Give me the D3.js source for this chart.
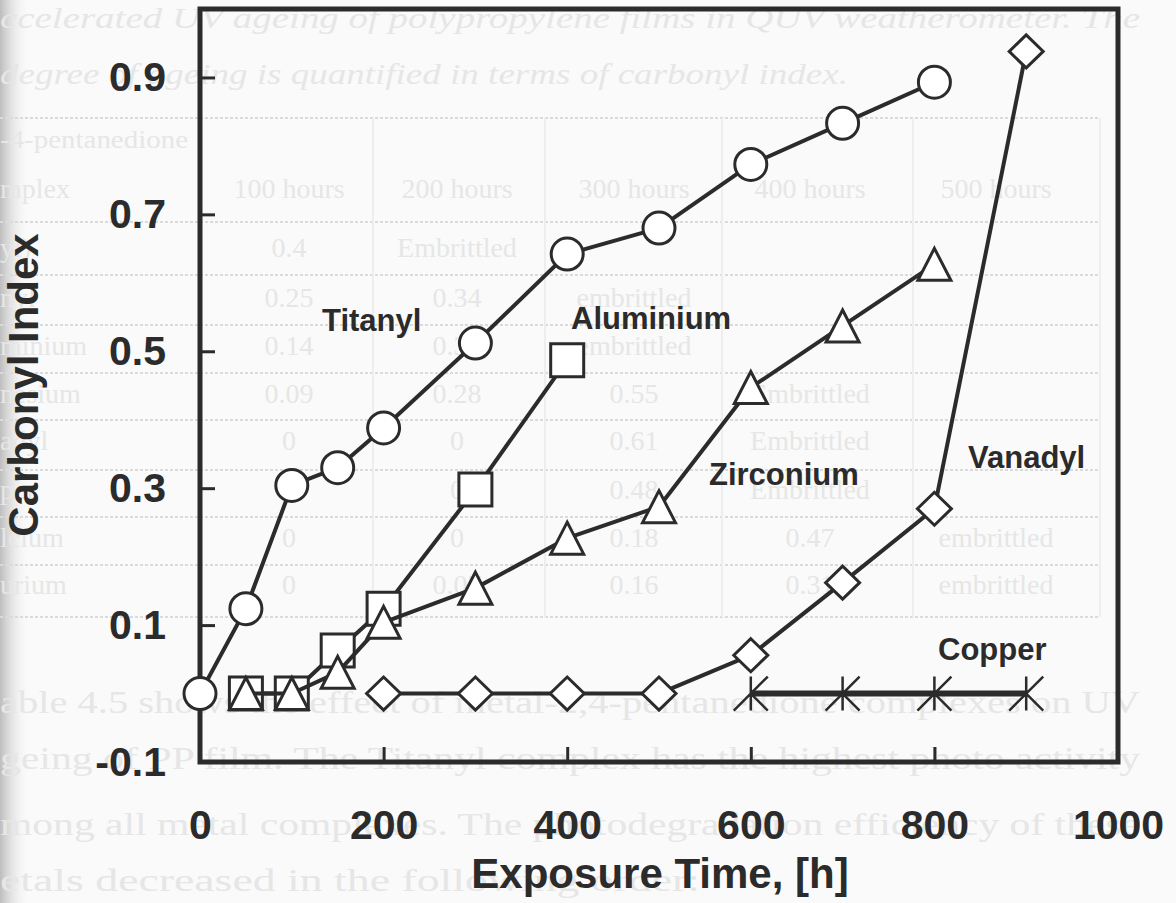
<!DOCTYPE html>
<html>
<head>
<meta charset="utf-8">
<script src="https://cdn.jsdelivr.net/npm/d3@7"></script>
<style>
  html, body { margin: 0; padding: 0; background: #fafafa; }
  svg { display: block; }
  .chart text { font-family: "Liberation Sans", Arial, sans-serif; font-weight: bold; fill: #2b2b2b; }
  .page text { font-family: "Liberation Serif", "Times New Roman", serif; fill: #e6e6e6; }
</style>
</head>
<body>
<svg id="fig" width="1176" height="903"></svg>
<script>
// axis ticks
const xTicks = [0, 200, 400, 600, 800, 1000];
const yTicks = [-0.1, 0.1, 0.3, 0.5, 0.7, 0.9];

// carbonyl index per complex
const titanylHours = [0, 50, 100, 150, 200, 300, 400, 500, 600, 700, 800];
const titanylIndex = [0, 0.124, 0.304, 0.33, 0.388, 0.512, 0.642, 0.68, 0.773, 0.833, 0.893];

const aluminiumHours = [50, 100, 150, 200, 300, 400];
const aluminiumIndex = [0, 0, 0.063, 0.124, 0.298, 0.487];

const zirconiumHours = [50, 100, 150, 200, 300, 400, 500, 600, 700, 800];
const zirconiumIndex = [0, 0, 0.031, 0.104, 0.154, 0.227, 0.273, 0.447, 0.537, 0.627];

const vanadylHours = [200, 300, 400, 500, 600, 700, 800, 900];
const vanadylIndex = [0, 0, 0, 0, 0.056, 0.162, 0.27, 0.938];

const copperHours = [600, 700, 800, 900];
const copperIndex = [0, 0, 0, 0];

// faded text showing through from the scanned page
const pageLines = [
  "ccelerated UV ageing of polypropylene films in QUV weatherometer. The",
  "degree of ageing is quantified in terms of carbonyl index.",
  "-4-pentanedione",
  "able 4.5 shows the effect of metal-2,4-pentanedione complexes on UV",
  "geing of PP film. The Titanyl complex has the highest photo activity",
  "mong all metal complexes. The photodegradation efficiency of these",
  "etals decreased in the following order:"
];
const tableHeader = ["mplex", "100 hours", "200 hours", "300 hours", "400 hours", "500 hours"];
const tableRows = [
  ["yl)", "0.4", "Embrittled", "", "", ""],
  ["nyl", "0.25", "0.34", "embrittled", "", ""],
  ["minium", "0.14", "0.32", "embrittled", "", ""],
  ["nesium", "0.09", "0.28", "0.55", "Embrittled", ""],
  ["adyl", "0", "0", "0.61", "Embrittled", ""],
  ["per", "0", "0", "0.48", "Embrittled", ""],
  ["lcium", "0", "0", "0.18", "0.47", "embrittled"],
  ["urium", "0", "0.07", "0.16", "0.31", "embrittled"]
];

const series = [
  { name: "Titanyl", hours: titanylHours, index: titanylIndex, marker: "circle" },
  { name: "Aluminium", hours: aluminiumHours, index: aluminiumIndex, marker: "square" },
  { name: "Zirconium", hours: zirconiumHours, index: zirconiumIndex, marker: "triangle" },
  { name: "Vanadyl", hours: vanadylHours, index: vanadylIndex, marker: "diamond" },
  { name: "Copper", hours: copperHours, index: copperIndex, marker: "star" }
];

const labelPos = {
  Titanyl: [322, 331],
  Aluminium: [571, 329],
  Zirconium: [709, 485],
  Vanadyl: [968, 468],
  Copper: [938, 660]
};

const svg = d3.select("#fig");
const ink = "#2b2b2b";

const x = d3.scaleLinear().domain([0, 1000]).range([200, 1118]);
const y = d3.scaleLinear().domain([-0.1, 1.0]).range([762, 9]);

drawPage();
drawChart();

function drawPage() {
  const g = svg.append("g").attr("class", "page");

  // darker strip along the scanned edge
  const grad = svg.append("defs").append("linearGradient").attr("id", "edge");
  grad.append("stop").attr("offset", "0").attr("stop-color", "#bdbdbd");
  grad.append("stop").attr("offset", "1").attr("stop-color", "#fafafa").attr("stop-opacity", 0);
  g.append("rect").attr("x", 0).attr("y", 0).attr("width", 30).attr("height", 903)
    .attr("fill", "url(#edge)");

  const lineSpec = [
    { y: 28, len: 1140, italic: true, size: 30 },
    { y: 84, len: 848, italic: true, size: 30 },
    { y: 148, len: 188, italic: false, size: 26 },
    { y: 713, len: 1140, italic: false, size: 32 },
    { y: 769, len: 1140, italic: false, size: 32 },
    { y: 835, len: 1140, italic: false, size: 32 },
    { y: 891, len: 700, italic: false, size: 32 }
  ];
  pageLines.forEach((t, i) => {
    const s = lineSpec[i];
    g.append("text")
      .attr("x", 0).attr("y", s.y)
      .attr("font-size", s.size)
      .attr("font-style", s.italic ? "italic" : "normal")
      .attr("textLength", s.len).attr("lengthAdjust", "spacingAndGlyphs")
      .text(t);
  });

  // table grid
  const rowLines = [118, 222, 275, 325, 373, 420, 470, 517, 565, 617];
  g.selectAll("line.row").data(rowLines).join("line")
    .attr("class", "row")
    .attr("x1", 0).attr("x2", 1100)
    .attr("y1", d => d).attr("y2", d => d)
    .attr("stroke", "#dadada").attr("stroke-width", 2)
    .attr("stroke-dasharray", "3,2");
  const colLines = [373, 545, 722, 913, 1100];
  g.selectAll("line.col").data(colLines).join("line")
    .attr("class", "col")
    .attr("x1", d => d).attr("x2", d => d)
    .attr("y1", 118).attr("y2", 617)
    .attr("stroke", "#eeeeee").attr("stroke-width", 2);

  const colCenters = [null, 289, 457, 634, 810, 996];
  const rowCenters = [247, 297, 345, 393, 440, 489, 537, 584];
  const cells = [];
  tableHeader.forEach((t, c) => cells.push({ t, c, cy: 188 }));
  tableRows.forEach((row, r) => row.forEach((t, c) => { if (t) cells.push({ t, c, cy: rowCenters[r] }); }));
  g.selectAll("text.cell").data(cells).join("text")
    .attr("class", "cell")
    .attr("x", d => d.c === 0 ? 0 : colCenters[d.c])
    .attr("y", d => d.cy + 10)
    .attr("text-anchor", d => d.c === 0 ? "start" : "middle")
    .attr("font-size", 28)
    .text(d => d.t);
}

function markerPath(type) {
  const p = d3.path();
  if (type === "circle") {
    p.arc(0, 0, 16, 0, 2 * Math.PI);
  } else if (type === "square") {
    p.rect(-16.5, -16.5, 33, 33);
  } else if (type === "triangle") {
    p.moveTo(0, -16); p.lineTo(16.5, 16); p.lineTo(-16.5, 16); p.closePath();
  } else if (type === "diamond") {
    p.moveTo(0, -16.5); p.lineTo(17, 0); p.lineTo(0, 16.5); p.lineTo(-17, 0); p.closePath();
  } else {
    p.moveTo(0, -17); p.lineTo(0, 17);
    p.moveTo(-17, 17); p.lineTo(17, -17);
    p.moveTo(0, 0); p.lineTo(17, 17);
  }
  return p.toString();
}

function drawChart() {
  const g = svg.append("g").attr("class", "chart");

  // y axis, ticks pointing into the plot
  const yAxis = g.append("g").attr("transform", `translate(${x(0)},0)`)
    .call(d3.axisLeft(y).tickValues(yTicks).tickFormat(d => d.toFixed(1))
      .tickSizeInner(-15).tickSizeOuter(0).tickPadding(34));
  const xAxis = g.append("g").attr("transform", `translate(0,${y(-0.1)})`)
    .call(d3.axisBottom(x).tickValues(xTicks).tickFormat(d => String(d))
      .tickSizeInner(-15).tickSizeOuter(0).tickPadding(48));

  [yAxis, xAxis].forEach(a => {
    a.select(".domain").remove();
    a.selectAll(".tick line").attr("stroke", ink).attr("stroke-width", 3);
    a.selectAll(".tick text").attr("font-size", 41).attr("fill", ink)
      .style("font-family", "'Liberation Sans', Arial, sans-serif").style("font-weight", "bold");
  });
  // the end ticks sit on the frame
  xAxis.selectAll(".tick").filter(d => d === 0 || d === 1000).select("line").remove();
  yAxis.selectAll(".tick").filter(d => d < 0).select("line").remove();

  // plot frame
  g.append("rect")
    .attr("x", x(0)).attr("y", y(1.0))
    .attr("width", x(1000) - x(0)).attr("height", y(-0.1) - y(1.0))
    .attr("fill", "none").attr("stroke", ink).attr("stroke-width", 5);

  const line = d3.line().x(d => x(d[0])).y(d => y(d[1]));

  series.forEach(s => {
    const pts = s.hours.map((h, i) => [h, s.index[i]]);
    const sg = g.append("g").attr("class", "series-" + s.name);
    sg.append("path").datum(pts)
      .attr("d", line)
      .attr("fill", "none").attr("stroke", ink)
      .attr("stroke-width", s.marker === "star" ? 6 : 4)
      .attr("stroke-linejoin", "round");
    sg.selectAll("path.mk").data(pts).join("path")
      .attr("class", "mk")
      .attr("transform", d => `translate(${x(d[0])},${y(d[1])})`)
      .attr("d", markerPath(s.marker))
      .attr("fill", s.marker === "star" ? "none" : "#fff")
      .attr("stroke", ink)
      .attr("stroke-width", s.marker === "star" ? 2.5 : 3);

    const [lx, ly] = labelPos[s.name];
    g.append("text").attr("x", lx).attr("y", ly)
      .attr("font-size", 31).text(s.name);
  });

  // axis titles
  g.append("text")
    .attr("transform", "translate(38,385) rotate(-90)")
    .attr("text-anchor", "middle").attr("font-size", 42)
    .text("Carbonyl Index");
  g.append("text")
    .attr("x", 660).attr("y", 888)
    .attr("text-anchor", "middle").attr("font-size", 42)
    .text("Exposure Time, [h]");
}
</script>
</body>
</html>
